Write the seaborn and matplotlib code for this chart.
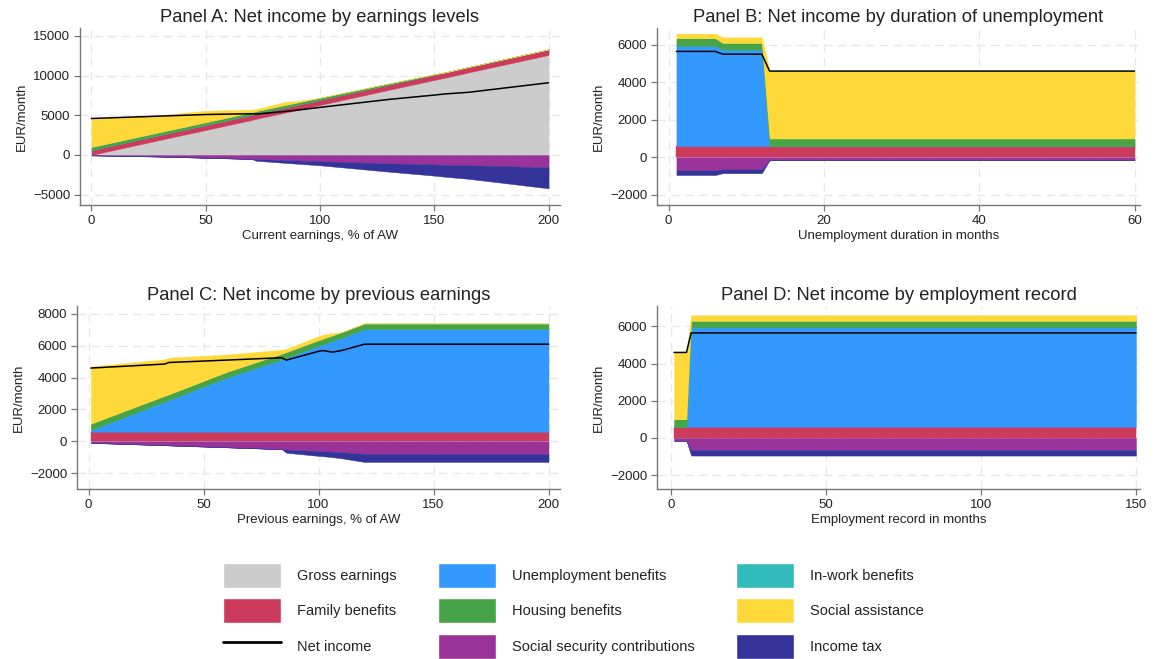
import numpy as np
import pandas as pd
import matplotlib
matplotlib.use("Agg")
import matplotlib.pyplot as plt
import seaborn as sns
from matplotlib.patches import Patch
from matplotlib.lines import Line2D

# ---- Panel A: current earnings (% of AW)
a_x = [0, 30, 50, 70, 72, 85, 90, 100, 130, 150, 155, 165, 200]
a_gross = [0, 1900, 3150, 4400, 4550, 5350, 5650, 6300, 8200, 9450, 9750, 10400, 12600]
a_family = [620, 630, 640, 650, 650, 650, 650, 650, 660, 670, 670, 680, 700]
a_unemp = [0] * 13
a_inwork = [0] * 13
a_housing = [380, 350, 330, 320, 320, 310, 300, 260, 150, 50, 0, 0, 0]
a_social = [3600, 2150, 1450, 350, 250, 400, 200, 0, 0, 0, 0, 0, 0]
a_ssc = [-50, -200, -350, -500, -520, -650, -700, -800, -1050, -1200, -1250, -1300, -1550]
a_tax = [0, 0, 0, 0, -200, -350, -400, -500, -1050, -1400, -1500, -1700, -2650]
a_net = [4600, 4900, 5100, 5200, 5150, 5500, 5650, 6000, 7000, 7550, 7700, 7900, 9100]

# ---- Panel B: unemployment duration (months)
b_x = [1, 6, 7, 12, 13, 60]
b_gross = [0, 0, 0, 0, 0, 0]
b_family = [600, 600, 600, 600, 600, 600]
b_unemp = [5350, 5350, 5150, 5150, 0, 0]
b_inwork = [0, 0, 0, 0, 0, 0]
b_housing = [400, 400, 350, 350, 400, 400]
b_social = [250, 250, 300, 300, 3600, 3600]
b_ssc = [-700, -700, -650, -650, -150, -150]
b_tax = [-250, -250, -200, -200, 0, 0]
b_net = [5650, 5650, 5500, 5500, 4600, 4600]

# ---- Panel C: previous earnings (% of AW)
c_x = [1, 33, 35, 60, 84, 86, 100, 102, 106, 110, 120, 200]
c_gross = [0] * 12
c_family = [600] * 12
c_unemp = [100, 1900, 2000, 3400, 4550, 4650, 5400, 5500, 5700, 5900, 6450, 6450]
c_inwork = [0] * 12
c_housing = [400, 350, 350, 350, 350, 350, 350, 350, 350, 350, 350, 350]
c_social = [3600, 2300, 2300, 1100, 250, 200, 250, 250, 150, 0, 0, 0]
c_ssc = [-100, -250, -260, -380, -500, -520, -620, -630, -660, -690, -800, -800]
c_tax = [0, 0, 0, 0, 0, -200, -300, -310, -340, -380, -500, -500]
c_net = [4600, 4850, 4950, 5100, 5250, 5100, 5650, 5700, 5600, 5700, 6100, 6100]

# ---- Panel D: employment record (months)
d_x = [1, 5, 6.5, 150]
d_gross = [0, 0, 0, 0]
d_family = [600, 600, 600, 600]
d_unemp = [0, 0, 5350, 5350]
d_inwork = [0, 0, 0, 0]
d_housing = [400, 400, 350, 350]
d_social = [3600, 3600, 300, 300]
d_ssc = [-150, -150, -650, -650]
d_tax = [0, 0, -300, -300]
d_net = [4600, 4600, 5650, 5650]

colors = {
    "Gross earnings": "#cccccc",
    "Family benefits": "#cc3a5c",
    "Unemployment benefits": "#3399ff",
    "In-work benefits": "#33bbbb",
    "Housing benefits": "#46a346",
    "Social assistance": "#ffd93a",
    "Social security contributions": "#993399",
    "Income tax": "#333399",
}

panels = [
    dict(title="Panel A: Net income by earnings levels", xlabel="Current earnings, % of AW",
         x=a_x, pos=[a_gross, a_family, a_unemp, a_inwork, a_housing, a_social], neg=[a_ssc, a_tax], net=a_net,
         xlim=(-5, 205), ylim=(-6300, 16000), xticks=[0, 50, 100, 150, 200], yticks=[-5000, 0, 5000, 10000, 15000],
         rect=[80 / 1155, 1 - 205 / 659, 480 / 1155, 177 / 659]),
    dict(title="Panel B: Net income by duration of unemployment", xlabel="Unemployment duration in months",
         x=b_x, pos=[b_gross, b_family, b_unemp, b_inwork, b_housing, b_social], neg=[b_ssc, b_tax], net=b_net,
         xlim=(-1.5, 60.7), ylim=(-2550, 6900), xticks=[0, 20, 40, 60], yticks=[-2000, 0, 2000, 4000, 6000],
         rect=[657 / 1155, 1 - 205 / 659, 483 / 1155, 177 / 659]),
    dict(title="Panel C: Net income by previous earnings", xlabel="Previous earnings, % of AW",
         x=c_x, pos=[c_gross, c_family, c_unemp, c_inwork, c_housing, c_social], neg=[c_ssc, c_tax], net=c_net,
         xlim=(-5, 205), ylim=(-3000, 8500), xticks=[0, 50, 100, 150, 200], yticks=[-2000, 0, 2000, 4000, 6000, 8000],
         rect=[77 / 1155, 1 - 489 / 659, 483 / 1155, 183 / 659]),
    dict(title="Panel D: Net income by employment record", xlabel="Employment record in months",
         x=d_x, pos=[d_gross, d_family, d_unemp, d_inwork, d_housing, d_social], neg=[d_ssc, d_tax], net=d_net,
         xlim=(-4.5, 151.3), ylim=(-2750, 7100), xticks=[0, 50, 100, 150], yticks=[-2000, 0, 2000, 4000, 6000],
         rect=[657 / 1155, 1 - 489 / 659, 483 / 1155, 183 / 659]),
]

pos_names = ["Gross earnings", "Family benefits", "Unemployment benefits", "In-work benefits",
             "Housing benefits", "Social assistance"]
neg_names = ["Social security contributions", "Income tax"]

sns.set_theme(style="white")
plt.rcParams["font.family"] = ["Liberation Sans", "DejaVu Sans"]

fig = plt.figure(figsize=(11.55, 6.59), dpi=100)

for p in panels:
    ax = fig.add_axes(p["rect"])
    ax.set_axisbelow(True)
    ax.grid(True, color="#e8e8e8", linestyle=(0, (6, 4)), linewidth=1)
    ax.stackplot(p["x"], *p["pos"], colors=[colors[n] for n in pos_names], linewidth=0.3,
                 edgecolor="face")
    ax.stackplot(p["x"], *p["neg"], colors=[colors[n] for n in neg_names], linewidth=0.3,
                 edgecolor="face")
    df = pd.DataFrame({"x": p["x"], "net": p["net"]})
    sns.lineplot(data=df, x="x", y="net", ax=ax, color="black", linewidth=1.1)
    ax.set_xlim(*p["xlim"])
    ax.set_ylim(*p["ylim"])
    ax.set_xticks(p["xticks"])
    ax.set_yticks(p["yticks"])
    ax.set_title(p["title"], fontsize=13.2, color="#222222", pad=4)
    ax.set_xlabel(p["xlabel"], fontsize=9.5, color="#222222", labelpad=2)
    ax.set_ylabel("EUR/month", fontsize=9.5, color="#222222", labelpad=4)
    ax.tick_params(axis="both", labelsize=9.5, colors="#222222", length=4, width=0.9,
                   color="#777777", direction="out", pad=3)
    ax.tick_params(axis="y", left=True)
    ax.tick_params(axis="x", bottom=True)
    for s in ["top", "right"]:
        ax.spines[s].set_visible(False)
    for s in ["left", "bottom"]:
        ax.spines[s].set_color("#777777")
        ax.spines[s].set_linewidth(1.0)

handles = [
    Patch(facecolor=colors["Gross earnings"], label="Gross earnings"),
    Patch(facecolor=colors["Family benefits"], label="Family benefits"),
    Line2D([0], [0], color="black", linewidth=2, label="Net income"),
    Patch(facecolor=colors["Unemployment benefits"], label="Unemployment benefits"),
    Patch(facecolor=colors["Housing benefits"], label="Housing benefits"),
    Patch(facecolor=colors["Social security contributions"], label="Social security contributions"),
    Patch(facecolor=colors["In-work benefits"], label="In-work benefits"),
    Patch(facecolor=colors["Social assistance"], label="Social assistance"),
    Patch(facecolor=colors["Income tax"], label="Income tax"),
]
fig.legend(handles=handles, ncol=3, frameon=False, loc="upper left",
           bbox_to_anchor=(223 / 1155, 1 - 563 / 659), borderaxespad=0, borderpad=0,
           fontsize=10.5, handlelength=4.0, handleheight=2.25, handletextpad=1.1,
           labelspacing=0.72, columnspacing=2.8, labelcolor="#222222")

fig.savefig("out.png", dpi=100)
